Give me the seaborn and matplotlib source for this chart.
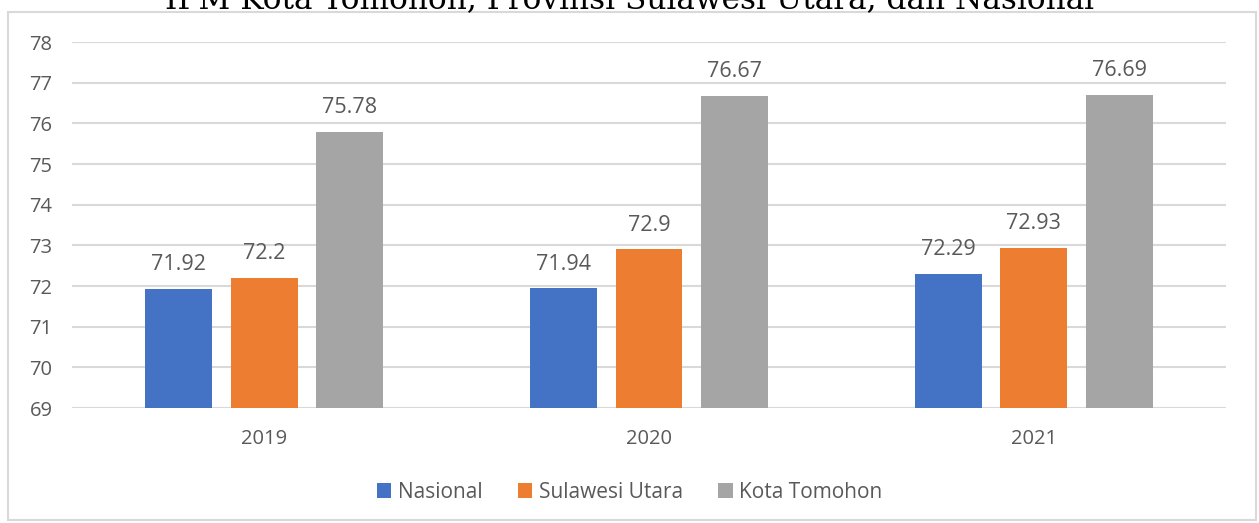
import matplotlib
matplotlib.use("Agg")
import matplotlib.pyplot as plt
import seaborn as sns
import pandas as pd
from matplotlib.patches import Rectangle

years = ["2019", "2020", "2021"]
series = ["Nasional", "Sulawesi Utara", "Kota Tomohon"]
nasional = [71.92, 71.94, 72.29]
sulut = [72.2, 72.9, 72.93]
tomohon = [75.78, 76.67, 76.69]
labels = {"Nasional": ["71.92", "71.94", "72.29"],
          "Sulawesi Utara": ["72.2", "72.9", "72.93"],
          "Kota Tomohon": ["75.78", "76.67", "76.69"]}
yticks = [69, 70, 71, 72, 73, 74, 75, 76, 77, 78]
title = "IPM Kota Tomohon, Provinsi Sulawesi Utara, dan Nasional"

rows = []
for s, vals in zip(series, [nasional, sulut, tomohon]):
    for y, v in zip(years, vals):
        rows.append({"Tahun": y, "Seri": s, "IPM": v})
df = pd.DataFrame(rows)

sns.set_theme(style="white")
plt.rcParams["font.family"] = ["Open Sans", "DejaVu Sans"]
txt = "#595959"
grid = "#d9d9d9"
colors = ["#4472C4", "#ED7D31", "#A5A5A5"]

fig = plt.figure(figsize=(12.59, 5.23), dpi=100)
ax = fig.add_axes([72/1259, 1-408/523, (1226-72)/1259, (408-42)/523])

sns.barplot(data=df, x="Tahun", y="IPM", hue="Seri", hue_order=series,
            palette=colors, width=0.666, gap=0.216, ax=ax, legend=True,
            saturation=1, errorbar=None, linewidth=0, edgecolor="none")

ax.set_ylim(69, 78)
ax.set_xlim(-0.5, 2.5)
ax.set_yticks(yticks)
ax.set_yticklabels([str(t) for t in yticks])
ax.yaxis.grid(True, color=grid, linewidth=1.5)
ax.set_axisbelow(True)
for sp in ax.spines.values():
    sp.set_visible(False)
ax.tick_params(axis="both", length=0, labelsize=14.5, colors=txt)
ax.tick_params(axis="y", pad=14)
ax.tick_params(axis="x", pad=15)
ax.set_xlabel("")
ax.set_ylabel("")

for cont, s in zip(ax.containers, series):
    ax.bar_label(cont, labels=labels[s], padding=10, fontsize=15.5, color=txt)

handles, lbls = ax.get_legend_handles_labels()
ax.legend_.remove()
fig.legend(handles, lbls, loc="center", bbox_to_anchor=(0.5, 1-492/523),
           ncol=3, frameon=False, fontsize=15, labelcolor=txt,
           handlelength=0.7, handleheight=0.7, handletextpad=0.3,
           columnspacing=1.7)

fig.patches.append(Rectangle((8/1259, 1-520/523), 1248/1259, 508/523,
                             transform=fig.transFigure, fill=False,
                             edgecolor=grid, linewidth=1.5))

fig.text(0.5, 1-8/523, title, ha="center", va="baseline",
         fontsize=22.5, family=["DejaVu Serif"], color="#000000")

fig.savefig("out.png", dpi=100)
